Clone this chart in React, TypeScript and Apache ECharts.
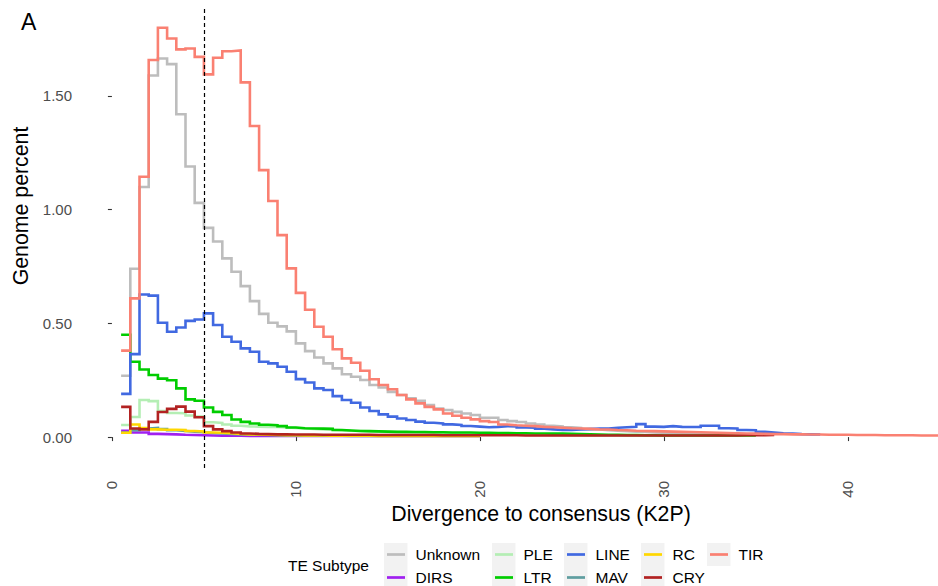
import React, { useEffect, useRef } from "react";
import * as echarts from "echarts";

// Histogram bins: first bin starts at 0.5, width 0.5 (K2P divergence)
const binStart = 0.5;
const binWidth = 0.5;

const unknownPct = [
  0.27, 0.74, 1.1, 1.59, 1.665, 1.64, 1.42, 1.19, 1.03, 0.92,
  0.86, 0.786, 0.727, 0.664, 0.598, 0.542, 0.503, 0.487, 0.465, 0.412,
  0.378, 0.35, 0.324, 0.302, 0.276, 0.265, 0.251, 0.229, 0.218, 0.199,
  0.185, 0.17, 0.16, 0.141, 0.126, 0.119, 0.111, 0.104, 0.097, 0.085,
  0.085, 0.075, 0.07, 0.066, 0.06, 0.055, 0.05, 0.047, 0.043, 0.04,
  0.036, 0.033, 0.03, 0.028, 0.026, 0.024, 0.022, 0.02, 0.019, 0.018,
  0.017, 0.016, 0.015, 0.014, 0.013, 0.012,
];

const dirsPct = [
  0.028, 0.02, 0.02, 0.014, 0.013, 0.012, 0.01, 0.009, 0.008, 0.007,
  0.006, 0.006, 0.006, 0.005, 0.005, 0.005, 0.005, 0.005, 0.005, 0.005,
  0.005, 0.005, 0.005, 0.005, 0.005, 0.005, 0.005, 0.005, 0.005, 0.005,
  0.005, 0.005, 0.005, 0.005, 0.005, 0.005, 0.005, 0.005, 0.005, 0.005,
];

const plePct = [
  0.053, 0.088, 0.163, 0.158, 0.115, 0.106, 0.105, 0.095, 0.09, 0.065,
  0.062, 0.055, 0.05, 0.047, 0.046, 0.045, 0.044, 0.042, 0.04, 0.038,
  0.036, 0.034, 0.032, 0.03, 0.028, 0.027, 0.025, 0.024, 0.023, 0.022,
  0.021, 0.02, 0.019, 0.018, 0.017, 0.016, 0.015, 0.014, 0.013, 0.012,
  0.011, 0.011, 0.01, 0.01, 0.009, 0.009, 0.008, 0.008, 0.007, 0.007,
  0.006, 0.006, 0.006, 0.006, 0.006, 0.006, 0.006, 0.006, 0.006, 0.006,
];

const ltrPct = [
  0.45, 0.331, 0.297, 0.273, 0.257, 0.25, 0.214, 0.166, 0.16, 0.13,
  0.111, 0.097, 0.077, 0.067, 0.06, 0.054, 0.052, 0.048, 0.042, 0.039,
  0.038, 0.037, 0.036, 0.031, 0.029, 0.027, 0.026, 0.025, 0.024, 0.023,
  0.023, 0.022, 0.022, 0.021, 0.021, 0.02, 0.02, 0.02, 0.019, 0.019,
  0.018, 0.018, 0.017, 0.017, 0.016, 0.016, 0.015, 0.015, 0.014, 0.013,
  0.012, 0.011, 0.01, 0.01, 0.009, 0.009, 0.008, 0.008, 0.007, 0.007,
  0.007, 0.007, 0.007, 0.007, 0.007, 0.007, 0.007, 0.007, 0.007, 0.007,
];

const linePct = [
  0.19, 0.365, 0.627, 0.622, 0.503, 0.463, 0.482, 0.511, 0.517, 0.544,
  0.493, 0.441, 0.419, 0.39, 0.375, 0.331, 0.324, 0.309, 0.287, 0.255,
  0.24, 0.214, 0.207, 0.18, 0.163, 0.151, 0.13, 0.115, 0.1, 0.09,
  0.082, 0.075, 0.068, 0.063, 0.06, 0.056, 0.053, 0.049, 0.046, 0.043,
  0.045, 0.048, 0.047, 0.042, 0.041, 0.037, 0.034, 0.031, 0.031, 0.033,
  0.035, 0.037, 0.038, 0.041, 0.043, 0.045, 0.057, 0.046, 0.045, 0.048,
  0.045, 0.044, 0.044, 0.05, 0.05, 0.039, 0.038, 0.031, 0.03, 0.023,
  0.02, 0.017, 0.015, 0.013, 0.012, 0.011, 0.01,
];

const mavPct = [
  0.02, 0.03, 0.038, 0.04, 0.035, 0.03, 0.027, 0.024, 0.021, 0.018,
  0.016, 0.014, 0.012, 0.011, 0.01, 0.009, 0.008, 0.007, 0.007, 0.006,
  0.006, 0.006, 0.006, 0.006, 0.005, 0.005, 0.005, 0.005, 0.005, 0.005,
  0.005, 0.005, 0.005, 0.005, 0.005, 0.005, 0.005, 0.005, 0.005, 0.005,
];

const rcPct = [
  0.019, 0.055, 0.04, 0.034, 0.032, 0.032, 0.031, 0.027, 0.025, 0.02,
  0.019, 0.017, 0.014, 0.012, 0.011, 0.01, 0.009, 0.008, 0.008, 0.007,
  0.007, 0.007, 0.006, 0.006, 0.006, 0.006, 0.006, 0.005, 0.005, 0.005,
  0.005, 0.005, 0.005, 0.005, 0.005, 0.005, 0.005, 0.005, 0.005, 0.005,
];

const cryPct = [
  0.133, 0.038, 0.034, 0.067, 0.11, 0.124, 0.134, 0.112, 0.087, 0.048,
  0.034, 0.026, 0.02, 0.016, 0.014, 0.013, 0.012, 0.012, 0.011, 0.011,
  0.011, 0.01, 0.01, 0.01, 0.01, 0.01, 0.01, 0.009, 0.009, 0.009,
  0.009, 0.009, 0.009, 0.009, 0.008, 0.008, 0.008, 0.008, 0.008, 0.008,
  0.008, 0.008, 0.008, 0.007, 0.007, 0.007, 0.007, 0.007, 0.007, 0.007,
  0.007, 0.007, 0.007, 0.007, 0.007, 0.007, 0.007, 0.007, 0.007, 0.007,
  0.007, 0.007, 0.007, 0.007, 0.007, 0.007, 0.007, 0.008, 0.008, 0.008,
  0.009, 0.01,
];

const tirPct = [
  0.38, 0.61, 1.145, 1.658, 1.8, 1.753, 1.705, 1.709, 1.672, 1.595,
  1.668, 1.697, 1.7, 1.56, 1.368, 1.174, 1.038, 0.888, 0.742, 0.634,
  0.56, 0.485, 0.441, 0.386, 0.346, 0.327, 0.292, 0.254, 0.229, 0.21,
  0.185, 0.166, 0.148, 0.133, 0.122, 0.104, 0.094, 0.085, 0.078, 0.07,
  0.066, 0.055, 0.052, 0.05, 0.048, 0.045, 0.043, 0.041, 0.039, 0.038,
  0.036, 0.034, 0.033, 0.031, 0.03, 0.028, 0.027, 0.026, 0.025, 0.024,
  0.023, 0.022, 0.021, 0.02, 0.019, 0.018, 0.017, 0.016, 0.015, 0.014,
  0.013, 0.013, 0.012, 0.012, 0.011, 0.011, 0.01, 0.01, 0.01, 0.009,
  0.009, 0.009, 0.008, 0.008, 0.008, 0.008, 0.007, 0.007, 0.007, 0.007,
  0.007, 0.006,
];

const seriesNames = ["Unknown", "DIRS", "PLE", "LTR", "LINE", "MAV", "RC", "CRY", "TIR"];
const seriesValues = [unknownPct, dirsPct, plePct, ltrPct, linePct, mavPct, rcPct, cryPct, tirPct];
const seriesColors = [
  "#BDBDBD", "#A020F0", "#B4EEB4", "#00CD00", "#4169E1",
  "#5F9EA0", "#FFD700", "#B22222", "#FA8072",
];

const yTicks = [0, 0.5, 1, 1.5];
const xTicks = [0, 10, 20, 30, 40];
const vlineX = 5;

const legendTitle = "TE Subtype";
const xTitle = "Divergence to consensus (K2P)";
const yTitle = "Genome percent";
const panelTag = "A";

const FONT = "'Liberation Sans', Arial, Helvetica, sans-serif";

export default function App() {
  const ref = useRef<HTMLDivElement>(null);

  useEffect(() => {
    if (!ref.current) return;
    const chart = echarts.init(ref.current, undefined, { renderer: "svg" });

    const series: any[] = seriesNames.map((name, si) => ({
      name,
      type: "line",
      step: "end",
      symbol: "none",
      showSymbol: false,
      clip: true,
      z: 2,
      lineStyle: { color: seriesColors[si], width: 2.6, cap: "butt", join: "miter" },
      itemStyle: { color: seriesColors[si] },
      data: seriesValues[si].map((v, i) => [binStart + i * binWidth, v]),
    }));

    series[series.length - 1].markLine = {
      silent: true,
      symbol: ["none", "none"],
      label: { show: false },
      emphasis: { disabled: true },
      lineStyle: { color: "#000000", width: 1.2, type: [4, 3] },
      data: [{ xAxis: vlineX }],
    };

    const keyCols = [384, 492, 564, 641, 707];
    const legendEls: any[] = [];
    seriesNames.forEach((name, i) => {
      const col = Math.floor(i / 2);
      const row = i % 2;
      const kx = keyCols[col];
      const ky = 543 + row * 23;
      legendEls.push({
        type: "rect",
        shape: { x: kx, y: ky, width: 23.5, height: 23 },
        style: { fill: "#F2F2F2" },
        z: 1,
      });
      legendEls.push({
        type: "line",
        shape: { x1: kx + 3, y1: ky + 11.5, x2: kx + 21, y2: ky + 11.5 },
        style: { stroke: seriesColors[i], lineWidth: 2.7 },
        z: 2,
      });
      legendEls.push({
        type: "text",
        x: kx + 31.5,
        y: ky + 11.5,
        style: {
          text: name,
          fontSize: 15.5,
          fontFamily: FONT,
          fill: "#000000",
          align: "left",
          verticalAlign: "middle",
        },
        z: 2,
      });
    });

    const option: any = {
      animation: false,
      backgroundColor: "#FFFFFF",
      grid: { left: 81, right: 0, top: 8, bottom: 118, containLabel: false },
      xAxis: {
        type: "value",
        min: -1.68,
        max: 44.9,
        axisLine: { show: false },
        splitLine: { show: false },
        axisTick: {
          show: true,
          length: 4,
          lineStyle: { color: "#333333", width: 1.1 },
          customValues: xTicks,
        },
        axisLabel: {
          show: true,
          rotate: 90,
          margin: 13,
          fontSize: 15,
          fontFamily: FONT,
          color: "#4D4D4D",
          customValues: xTicks,
          formatter: (v: number) => String(v),
        },
      },
      yAxis: {
        type: "value",
        min: -0.136,
        max: 1.887,
        axisLine: { show: false },
        splitLine: { show: false },
        axisTick: {
          show: true,
          length: 4,
          lineStyle: { color: "#333333", width: 1.1 },
          customValues: yTicks,
        },
        axisLabel: {
          show: true,
          margin: 9,
          fontSize: 15,
          fontFamily: FONT,
          color: "#4D4D4D",
          customValues: yTicks,
          formatter: (v: number) => v.toFixed(2),
        },
      },
      series,
      graphic: {
        elements: [
          {
            type: "text",
            x: 21,
            y: 21.5,
            style: {
              text: panelTag,
              fontSize: 23,
              fontFamily: FONT,
              fill: "#000000",
              align: "left",
              verticalAlign: "middle",
            },
          },
          {
            type: "text",
            x: 21,
            y: 206,
            rotation: Math.PI / 2,
            style: {
              text: yTitle,
              fontSize: 21.3,
              fontFamily: FONT,
              fill: "#000000",
              align: "center",
              verticalAlign: "middle",
            },
          },
          {
            type: "text",
            x: 541,
            y: 514,
            style: {
              text: xTitle,
              fontSize: 21.3,
              fontFamily: FONT,
              fill: "#000000",
              align: "center",
              verticalAlign: "middle",
            },
          },
          {
            type: "text",
            x: 288,
            y: 565,
            style: {
              text: legendTitle,
              fontSize: 15.5,
              fontFamily: FONT,
              fill: "#000000",
              align: "left",
              verticalAlign: "middle",
            },
          },
          ...legendEls,
        ],
      },
    };

    chart.setOption(option);
    return () => {
      chart.dispose();
    };
  }, []);

  return (
    <div
      ref={ref}
      style={{ position: "fixed", left: 0, top: 0, width: 938, height: 586, background: "#fff" }}
    />
  );
}
